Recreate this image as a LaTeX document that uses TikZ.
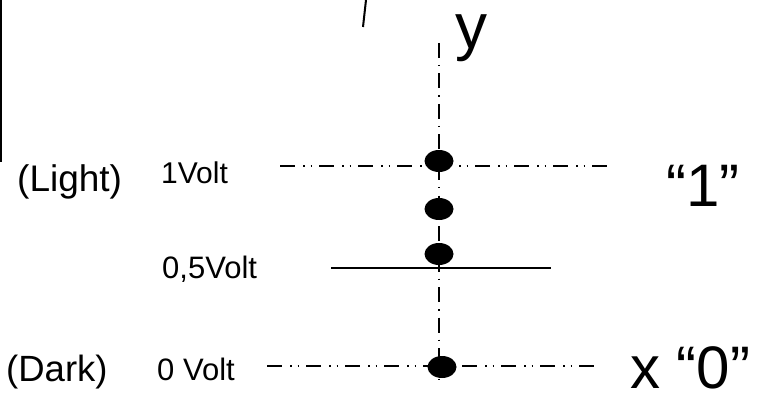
\documentclass[tikz,border=0pt]{standalone}
\usepackage{fontspec}
\setmainfont{Liberation Sans}
\usetikzlibrary{shapes.geometric}
\begin{document}
\begin{tikzpicture}[x=1pt,y=-1pt,
  lbl/.style={inner sep=0pt,anchor=base west},
  dot/.style={ellipse,fill=black,draw=none,minimum width=29pt,minimum height=22pt,inner sep=0pt},
  ddot/.style={line width=2pt,dash pattern=on 15pt off 8pt on 1.5pt off 6pt on 1.5pt off 7pt},
  axisline/.style={line width=2pt,dash pattern=on 15pt off 7pt on 1.5pt off 7pt},
  solidline/.style={line width=2pt}]
\useasboundingbox (0,0) rectangle (765,398);
% frame fragments
\coordinate (f1) at (1,0);
\coordinate (f2) at (1,162);
\draw[line width=2pt] (f1) -- (f2);
\coordinate (s1) at (366,0);
\coordinate (s2) at (363,27);
\draw[line width=2pt] (s1) -- (s2);
% axis and level lines
\coordinate (ytop) at (439,43);
\coordinate (ybot) at (439,380);
\draw[axisline] (ytop) -- (ybot);
\coordinate (h1a) at (280,166);
\coordinate (h1b) at (608,166);
\draw[ddot] (h1a) -- (h1b);
\coordinate (h5a) at (331,268);
\coordinate (h5b) at (551,268);
\draw[solidline] (h5a) -- (h5b);
\coordinate (h0a) at (267,366);
\coordinate (h0b) at (595,366);
\draw[ddot] (h0a) -- (h0b);
% dots
\node[dot] (d1) at (439,161) {};
\node[dot] (d2) at (439,209) {};
\node[dot] (d3) at (439,254) {};
\node[dot] (d0) at (442,367) {};
% labels
\node[lbl,font=\fontsize{37}{40}\selectfont] (light) at (17,192) {(Light)};
\node[lbl,font=\fontsize{30}{34}\selectfont] (v1) at (161,183) {1Volt};
\node[lbl,font=\fontsize{31}{34}\selectfont] (v05) at (162,278) {0,5Volt};
\node[lbl,font=\fontsize{36.5}{40}\selectfont] (dark) at (6,381) {(Dark)};
\node[lbl,font=\fontsize{31}{34}\selectfont] (v0) at (157,380) {0 Volt};
\node[lbl,font=\fontsize{60}{64}\selectfont] (one) at (666,206) {“1”};
\node[lbl,font=\fontsize{60}{64}\selectfont] (zero) at (630,388) {x “0”};
\node[lbl,font=\fontsize{64}{68}\selectfont] (ylab) at (455,49) {y};
\end{tikzpicture}
\end{document}
